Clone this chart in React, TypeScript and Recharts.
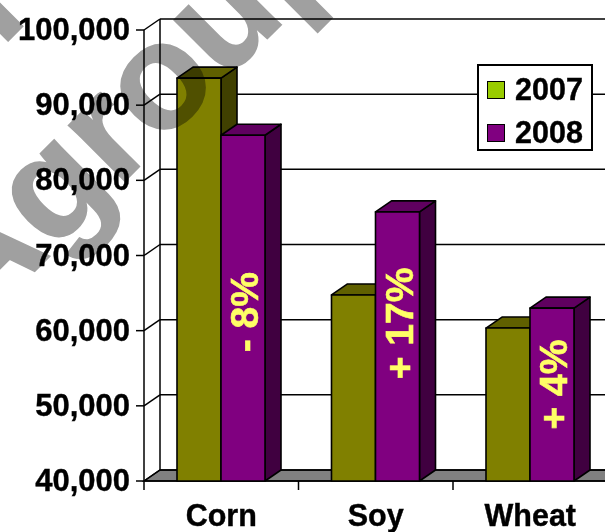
import { BarChart, Bar, XAxis, YAxis, Customized } from "recharts";

const crops = ["Corn", "Soy", "Wheat"];
const output2007 = [93600, 64750, 60350];
const output2008 = [86000, 75800, 63000];
const changes = ["- 8%", "+ 17%", "+ 4%"];
const yTicks = [40000, 50000, 60000, 70000, 80000, 90000, 100000];
const seriesYears = ["2007", "2008"];

const rows = crops.map((crop, i) => ({
  crop,
  y2007: output2007[i],
  y2008: output2008[i],
  change: changes[i],
}));

const FONT = "'Liberation Sans', Arial, sans-serif";
// plot box and the depth of the pseudo-3D walls, in px
const LEFT = 144;
const TOP = 30;
const PLOT_W = 463.5;
const PLOT_H = 451;
const BOTTOM = TOP + PLOT_H;
const DX = 16;
const DY = -11;
// how far each change label sits below the middle of its bar
const labelNudge = [4, -23, -10];

function Box({ x, y, width, height, front, top, side }: any) {
  const x2 = x + width;
  const y2 = y + height;
  return (
    <g stroke="#000" strokeWidth={1.6} strokeLinejoin="round">
      <polygon fill={side} points={`${x2},${y} ${x2 + DX},${y + DY} ${x2 + DX},${y2 + DY} ${x2},${y2}`} />
      <polygon fill={top} points={`${x},${y} ${x + DX},${y + DY} ${x2 + DX},${y + DY} ${x2},${y}`} />
      <rect x={x} y={y} width={width} height={height} fill={front} />
    </g>
  );
}

function Box2007(props: any) {
  return <Box {...props} front="#808000" top="#606000" side="#404000" />;
}

function Box2008(props: any) {
  const { x, y, width, height, payload, index } = props;
  const cx = x + width / 2 + 2;
  const cy = y + height / 2 + labelNudge[index];
  return (
    <g>
      <Box {...props} front="#800080" top="#600060" side="#400040" />
      <text
        x={cx}
        y={cy}
        transform={`rotate(-90 ${cx} ${cy})`}
        textAnchor="middle"
        dominantBaseline="central"
        fontFamily={FONT}
        fontWeight="bold"
        fontSize={39}
        fill="#ffff66"
        stroke="#ffff66"
        strokeWidth={0.6}
      >
        {payload.change}
      </text>
    </g>
  );
}

// back wall, grey floor, gridlines and slanted tick stubs behind the bars
function Walls() {
  const right = LEFT + PLOT_W;
  const step = PLOT_H / (yTicks.length - 1);
  const catW = PLOT_W / crops.length;
  return (
    <g stroke="#000" strokeWidth={1.5}>
      <polygon fill="#808080" points={`${LEFT},${BOTTOM} ${LEFT + DX},${BOTTOM + DY} ${right},${BOTTOM + DY} ${right},${BOTTOM}`} />
      <line x1={LEFT} y1={TOP} x2={LEFT} y2={BOTTOM} />
      <line x1={LEFT + DX} y1={TOP + DY} x2={LEFT + DX} y2={BOTTOM + DY} />
      {yTicks.map((_, i) => {
        const ty = TOP + step * i;
        return (
          <g key={i}>
            <line x1={LEFT} y1={ty} x2={LEFT + DX} y2={ty + DY} />
            <line x1={LEFT + DX} y1={ty + DY} x2={right} y2={ty + DY} />
          </g>
        );
      })}
      <line x1={LEFT} y1={BOTTOM} x2={right} y2={BOTTOM} />
      {[0, 1, 2, 3].map((i) => (
        <line key={i} x1={LEFT + catW * i} y1={BOTTOM} x2={LEFT + catW * i} y2={BOTTOM + 9} />
      ))}
    </g>
  );
}

function YearLegend() {
  const colors = ["#99cc00", "#800080"];
  return (
    <div
      style={{
        position: "absolute",
        left: 477,
        top: 64,
        width: 116,
        height: 87,
        boxSizing: "border-box",
        border: "2px solid #000",
        background: "#fff",
        fontFamily: FONT,
        fontWeight: "bold",
        fontSize: 30.5,
        color: "#000",
        paddingTop: 2,
        WebkitTextStroke: "0.4px #000",
      }}
    >
      {seriesYears.map((year, i) => (
        <div key={year} style={{ display: "flex", alignItems: "center", height: 43, paddingLeft: 8 }}>
          <span
            style={{
              width: 18,
              height: 18,
              boxSizing: "border-box",
              background: colors[i],
              border: "1.5px solid #000",
              marginRight: 10,
              flexShrink: 0,
            }}
          />
          {year}
        </div>
      ))}
    </div>
  );
}

export default function App() {
  return (
    <div style={{ position: "absolute", left: 0, top: 0, width: 605, height: 532, overflow: "hidden", background: "#fff" }}>
      <BarChart
        width={650}
        height={532}
        data={rows}
        barSize={44}
        barGap={0}
        margin={{ top: TOP, right: 650 - LEFT - PLOT_W, left: 0, bottom: 0 }}
      >
        <Customized component={Walls} />
        <XAxis
          dataKey="crop"
          height={532 - BOTTOM}
          tickLine={false}
          axisLine={false}
          interval={0}
          tick={{ fontFamily: FONT, fontWeight: "bold", fontSize: 30.5, fill: "#000", stroke: "#000", strokeWidth: 0.4 }}
          tickMargin={17}
        />
        <YAxis
          width={LEFT}
          type="number"
          domain={[40000, 100000]}
          ticks={yTicks}
          interval={0}
          tickFormatter={(v: number) => v.toLocaleString("en-US")}
          axisLine={false}
          tickSize={8}
          tickLine={{ stroke: "#000", strokeWidth: 1.5 }}
          tick={{ fontFamily: FONT, fontWeight: "bold", fontSize: 31, fill: "#000", stroke: "#000", strokeWidth: 0.4, dy: -1 }}
          tickMargin={6}
        />
        <Bar dataKey="y2007" name="2007" shape={Box2007} isAnimationActive={false} />
        <Bar dataKey="y2008" name="2008" shape={Box2008} isAnimationActive={false} />
      </BarChart>
      <YearLegend />
      {/* diagonal watermark, multiplied so the lines and labels stay black */}
      <svg width={605} height={532} style={{ position: "absolute", left: 0, top: 0, mixBlendMode: "multiply", pointerEvents: "none" }}>
        <g fontFamily={FONT} fontWeight="bold" fontSize={150} fill="#a0a0a0" stroke="#a0a0a0" strokeWidth={1.5}>
          <text x={-70} y={119} transform="rotate(-45 -70 119)">Pro</text>
          <text x={-24} y={330} transform="rotate(-45 -24 330)">Agroup</text>
        </g>
      </svg>
    </div>
  );
}
